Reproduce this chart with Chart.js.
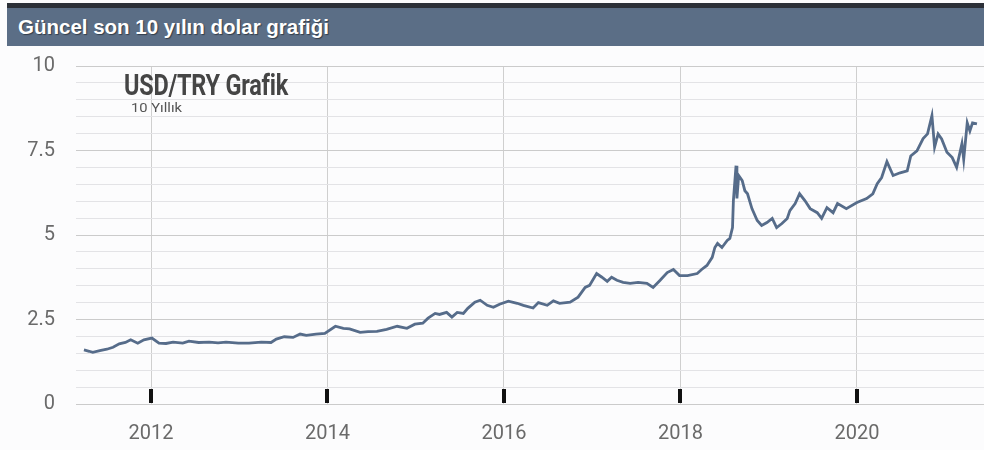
<!DOCTYPE html>
<html>
<head>
<meta charset="utf-8">
<script src="https://cdn.jsdelivr.net/npm/chart.js@4"></script>
<style>
  html, body { margin: 0; padding: 0; background: #fcfcfd; }
  #wrap { position: relative; width: 984px; height: 450px; overflow: hidden; }
  #topbar { position: absolute; left: 7px; top: 3px; width: 977px; height: 5px; background: #2c3038; }
  #header { position: absolute; left: 7px; top: 8px; width: 977px; height: 38px; background: #5b6e86;
            color: #fff; font: bold 20.5px "Liberation Sans", Arial, sans-serif; line-height: 38px;
            padding-left: 11px; box-sizing: border-box; text-shadow: 1px 1px 1px rgba(0,0,0,0.45); }
  #chartBox { position: absolute; left: 0; top: 33px; width: 984px; height: 417px; }
  #t1 { position: absolute; left: 124px; top: 67px; font: bold 30px Roboto, sans-serif; color: #454545;
        white-space: nowrap; transform-origin: 0 0; letter-spacing: -0.3px; }
  #t2 { position: absolute; left: 131px; top: 100px; font: 13px Roboto, sans-serif; color: #555;
        white-space: nowrap; transform-origin: 0 0; }
</style>
</head>
<body>
<div id="wrap">
  <div id="topbar"></div>
  <div id="header">Güncel son 10 yılın dolar grafiği</div>
  <div id="chartBox"><canvas id="c" width="984" height="417"></canvas></div>
  <div id="t1">USD/TRY Grafik</div>
  <div id="t2">10 Yıllık</div>
</div>
<script>
// Decimal year of each reading
const years = [
  2011.24, 2011.30, 2011.34, 2011.42, 2011.50, 2011.57, 2011.64, 2011.71, 2011.77, 2011.85, 2011.92,
  2012.01, 2012.09, 2012.17, 2012.25, 2012.36, 2012.43, 2012.54, 2012.66, 2012.76, 2012.85, 2012.99,
  2013.11, 2013.25, 2013.36, 2013.42, 2013.51, 2013.61, 2013.69, 2013.76, 2013.87, 2013.97,
  2014.09, 2014.18, 2014.25, 2014.37, 2014.46, 2014.56, 2014.67, 2014.79, 2014.90, 2014.99,
  2015.08, 2015.14, 2015.22, 2015.27, 2015.35, 2015.41, 2015.47, 2015.54, 2015.59, 2015.67, 2015.73, 2015.81, 2015.88, 2015.95,
  2016.05, 2016.15, 2016.22, 2016.33, 2016.39, 2016.49, 2016.56, 2016.63, 2016.75, 2016.84, 2016.92, 2016.97,
  2017.05, 2017.11, 2017.17, 2017.22, 2017.28, 2017.35, 2017.43, 2017.52, 2017.62, 2017.69, 2017.77, 2017.85, 2017.92, 2017.99,
  2018.08, 2018.19, 2018.24, 2018.30, 2018.36, 2018.39, 2018.42, 2018.47, 2018.53, 2018.56, 2018.59, 2018.60, 2018.63, 2018.64,
  2018.66, 2018.70, 2018.73, 2018.76, 2018.81, 2018.87, 2018.92, 2018.98,
  2019.04, 2019.09, 2019.15, 2019.21, 2019.24, 2019.30, 2019.35, 2019.41, 2019.47, 2019.55, 2019.60, 2019.66, 2019.73, 2019.78, 2019.88,
  2020.00, 2020.11, 2020.18, 2020.23, 2020.28, 2020.34, 2020.41, 2020.49, 2020.57, 2020.61, 2020.68, 2020.75, 2020.80, 2020.85, 2020.88, 2020.92, 2020.96,
  2021.02, 2021.08, 2021.13, 2021.19, 2021.21, 2021.25, 2021.28, 2021.31, 2021.36
];
// USD/TRY rate
const usdTry = [
  1.60, 1.56, 1.53, 1.58, 1.62, 1.68, 1.78, 1.82, 1.90, 1.80, 1.90,
  1.95, 1.80, 1.79, 1.83, 1.80, 1.86, 1.82, 1.83, 1.81, 1.83, 1.80,
  1.80, 1.83, 1.82, 1.92, 1.99, 1.97, 2.07, 2.03, 2.07, 2.09,
  2.30, 2.24, 2.22, 2.12, 2.14, 2.15, 2.21, 2.30, 2.24, 2.36,
  2.39, 2.54, 2.68, 2.65, 2.71, 2.57, 2.71, 2.68, 2.83, 3.01, 3.07, 2.92, 2.86, 2.95,
  3.04, 2.98, 2.92, 2.84, 3.00, 2.92, 3.05, 2.98, 3.01, 3.16, 3.45, 3.51,
  3.86, 3.75, 3.63, 3.75, 3.66, 3.60, 3.57, 3.60, 3.57, 3.45, 3.66, 3.89, 3.98, 3.80,
  3.80, 3.86, 3.98, 4.10, 4.34, 4.63, 4.75, 4.63, 4.84, 4.90, 5.22, 6.02, 7.05, 6.08,
  6.76, 6.61, 6.31, 6.22, 5.78, 5.43, 5.28, 5.37,
  5.49, 5.22, 5.34, 5.49, 5.72, 5.93, 6.22, 6.02, 5.78, 5.66, 5.49, 5.81, 5.66, 5.93, 5.78,
  5.96, 6.08, 6.22, 6.52, 6.70, 7.17, 6.76, 6.84, 6.90, 7.34, 7.49, 7.85, 7.99, 8.53, 7.60, 7.99, 7.84,
  7.45, 7.29, 7.00, 7.70, 7.24, 8.32, 8.08, 8.32, 8.29
];
const xTickYears = [2012, 2014, 2016, 2018, 2020];
const yTickLabels = [0, 2.5, 5, 7.5, 10];

const points = years.map((t, i) => ({ x: t, y: usdTry[i] }));

// squeeze the in-chart title to the reference's condensed width
function fitWidth(id, w) {
  const el = document.getElementById(id);
  const s = w / el.getBoundingClientRect().width;
  el.style.transform = 'scaleX(' + s + ')';
}
fitWidth('t1', 164);
fitWidth('t2', 51);

const tickMarks = {
  id: 'tickMarks',
  afterDatasetsDraw(chart) {
    const ctx = chart.ctx, xs = chart.scales.x, ys = chart.scales.y;
    const y0 = ys.getPixelForValue(0);
    ctx.save();
    ctx.fillStyle = '#111';
    xTickYears.forEach(t => {
      const px = Math.round(xs.getPixelForValue(t));
      ctx.fillRect(px - 2, y0 - 15, 4, 14);
    });
    ctx.restore();
  }
};

new Chart(document.getElementById('c'), {
  type: 'line',
  data: {
    datasets: [{
      data: points,
      borderColor: '#566c8a',
      borderWidth: 2.8,
      pointRadius: 0,
      tension: 0,
      fill: false
    }]
  },
  options: {
    responsive: false,
    animation: false,
    layout: { padding: { top: 6, right: 0, left: 0, bottom: 0 } },
    plugins: { legend: { display: false }, tooltip: { enabled: false } },
    scales: {
      x: {
        type: 'linear',
        min: 2011.15,
        max: 2021.44,
        afterBuildTicks(scale) { scale.ticks = xTickYears.map(v => ({ value: v })); },
        afterFit(scale) { scale.height = 46; },
        border: { display: false },
        grid: { color: '#cfcfcf', lineWidth: 1, drawTicks: false },
        ticks: {
          padding: 18,
          color: '#6a6a6a',
          font: { family: 'Roboto', size: 20 },
          maxRotation: 0,
          callback: v => String(v)
        }
      },
      y: {
        min: 0,
        max: 10,
        afterBuildTicks(scale) {
          const t = [];
          for (let i = 0; i <= 20; i++) t.push({ value: i * 0.5 });
          scale.ticks = t;
        },
        afterFit(scale) { scale.width = 76; },
        border: { display: false },
        grid: {
          drawTicks: false,
          color: ctx => (yTickLabels.includes(ctx.tick.value) ? '#cbcbcb' : '#e3e3e6'),
          lineWidth: 1
        },
        ticks: {
          padding: 21,
          color: '#6a6a6a',
          font: { family: 'Roboto', size: 20 },
          autoSkip: false,
          callback: v => (yTickLabels.includes(v) ? String(v) : '')
        }
      }
    }
  },
  plugins: [tickMarks]
});
</script>
</body>
</html>
